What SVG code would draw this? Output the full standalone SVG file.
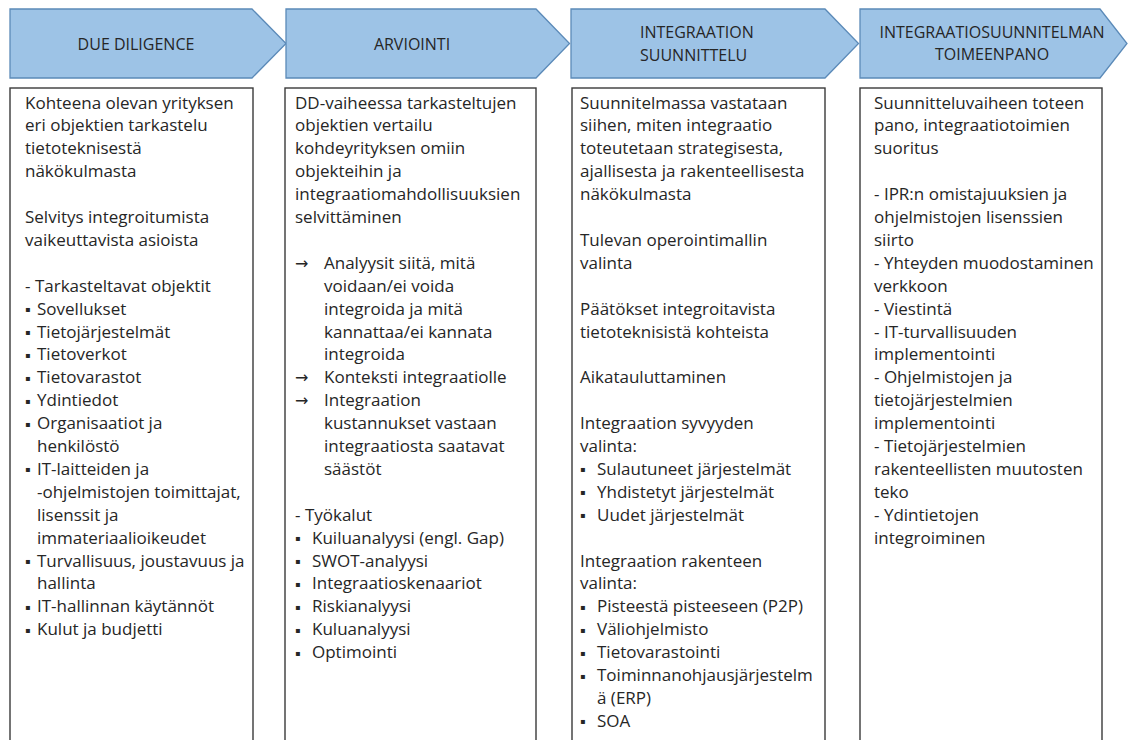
<svg xmlns="http://www.w3.org/2000/svg" width="1131" height="740" viewBox="0 0 1131 740">
<style>
.hdr{fill:#9DC3E6;stroke:#5B8AB8;stroke-width:1.3}
.box{fill:#fff;stroke:#3a3a3a;stroke-width:1.4}
.ht{font-family:"Open Sans","Noto Sans","DejaVu Sans",sans-serif;font-size:16px;fill:#262626}
.bt{font-family:"Open Sans","Noto Sans","DejaVu Sans",sans-serif;font-size:17px;fill:#262626}
.b{font-family:"DejaVu Sans",sans-serif;font-size:8px}
.ar{font-family:"DejaVu Sans",sans-serif;font-size:16px}
</style>
<rect width="1131" height="740" fill="#fff"/>

<g id="phase-due-diligence">
<polygon class="hdr" points="10,9 252,9 286,43.5 252,78 10,78"/>
<text class="ht" x="136" y="49.5" text-anchor="middle">DUE DILIGENCE</text>
<rect class="box" x="10" y="88" width="243" height="670"/>
<text class="bt" transform="translate(0,2.5)">
<tspan x="25" y="106">Kohteena olevan yrityksen</tspan>
<tspan x="25" y="128.9">eri objektien tarkastelu</tspan>
<tspan x="25" y="151.8">tietoteknisestä</tspan>
<tspan x="25" y="174.7">näkökulmasta</tspan>
<tspan x="25" y="220.5">Selvitys integroitumista</tspan>
<tspan x="25" y="243.4">vaikeuttavista asioista</tspan>
<tspan x="25" y="289.2">- Tarkasteltavat objektit</tspan>
<tspan x="25" y="309.6" class="b">▪</tspan><tspan x="37" y="312.1">Sovellukset</tspan>
<tspan x="25" y="332.5" class="b">▪</tspan><tspan x="37" y="335">Tietojärjestelmät</tspan>
<tspan x="25" y="355.4" class="b">▪</tspan><tspan x="37" y="357.9">Tietoverkot</tspan>
<tspan x="25" y="378.3" class="b">▪</tspan><tspan x="37" y="380.8">Tietovarastot</tspan>
<tspan x="25" y="401.2" class="b">▪</tspan><tspan x="37" y="403.7">Ydintiedot</tspan>
<tspan x="25" y="424.1" class="b">▪</tspan><tspan x="37" y="426.6">Organisaatiot ja</tspan>
<tspan x="37" y="449.5">henkilöstö</tspan>
<tspan x="25" y="469.9" class="b">▪</tspan><tspan x="37" y="472.4">IT-laitteiden ja</tspan>
<tspan x="37" y="495.3">-ohjelmistojen toimittajat,</tspan>
<tspan x="37" y="518.2">lisenssit ja</tspan>
<tspan x="37" y="541.1">immateriaalioikeudet</tspan>
<tspan x="25" y="561.5" class="b">▪</tspan><tspan x="37" y="564">Turvallisuus, joustavuus ja</tspan>
<tspan x="37" y="586.9">hallinta</tspan>
<tspan x="25" y="607.3" class="b">▪</tspan><tspan x="37" y="609.8">IT-hallinnan käytännöt</tspan>
<tspan x="25" y="630.2" class="b">▪</tspan><tspan x="37" y="632.7">Kulut ja budjetti</tspan>
</text>
</g>

<g id="phase-arviointi">
<polygon class="hdr" points="286,9 536,9 569.5,43.5 536,78 286,78"/>
<text class="ht" x="412" y="50" text-anchor="middle">ARVIOINTI</text>
<rect class="box" x="285" y="88" width="251" height="670"/>
<text class="bt" transform="translate(0,2.5)">
<tspan x="295" y="106">DD-vaiheessa tarkasteltujen</tspan>
<tspan x="295" y="128.9">objektien vertailu</tspan>
<tspan x="295" y="151.8">kohdeyrityksen omiin</tspan>
<tspan x="295" y="174.7">objekteihin ja</tspan>
<tspan x="295" y="197.6">integraatiomahdollisuuksien</tspan>
<tspan x="295" y="220.5">selvittäminen</tspan>
<tspan x="295" y="266.3" class="ar">→</tspan><tspan x="324" y="266.3">Analyysit siitä, mitä</tspan>
<tspan x="324" y="289.2">voidaan/ei voida</tspan>
<tspan x="324" y="312.1">integroida ja mitä</tspan>
<tspan x="324" y="335">kannattaa/ei kannata</tspan>
<tspan x="324" y="357.9">integroida</tspan>
<tspan x="295" y="380.8" class="ar">→</tspan><tspan x="324" y="380.8">Konteksti integraatiolle</tspan>
<tspan x="295" y="403.7" class="ar">→</tspan><tspan x="324" y="403.7">Integraation</tspan>
<tspan x="324" y="426.6">kustannukset vastaan</tspan>
<tspan x="324" y="449.5">integraatiosta saatavat</tspan>
<tspan x="324" y="472.4">säästöt</tspan>
<tspan x="295" y="518.2">- Työkalut</tspan>
<tspan x="295" y="538.6" class="b">▪</tspan><tspan x="312" y="541.1">Kuiluanalyysi (engl. Gap)</tspan>
<tspan x="295" y="561.5" class="b">▪</tspan><tspan x="312" y="564">SWOT-analyysi</tspan>
<tspan x="295" y="584.4" class="b">▪</tspan><tspan x="312" y="586.9">Integraatioskenaariot</tspan>
<tspan x="295" y="607.3" class="b">▪</tspan><tspan x="312" y="609.8">Riskianalyysi</tspan>
<tspan x="295" y="630.2" class="b">▪</tspan><tspan x="312" y="632.7">Kuluanalyysi</tspan>
<tspan x="295" y="653.1" class="b">▪</tspan><tspan x="312" y="655.6">Optimointi</tspan>
</text>
</g>

<g id="phase-integraation-suunnittelu">
<polygon class="hdr" points="571,9 825,9 858.5,43.5 825,78 571,78"/>
<text class="ht"><tspan x="640" y="38">INTEGRAATION</tspan><tspan x="640" y="61">SUUNNITTELU</tspan></text>
<rect class="box" x="572" y="88" width="253" height="670"/>
<text class="bt" transform="translate(0,2.5)">
<tspan x="580" y="106">Suunnitelmassa vastataan</tspan>
<tspan x="580" y="128.9">siihen, miten integraatio</tspan>
<tspan x="580" y="151.8">toteutetaan strategisesta,</tspan>
<tspan x="580" y="174.7">ajallisesta ja rakenteellisesta</tspan>
<tspan x="580" y="197.6">näkökulmasta</tspan>
<tspan x="580" y="243.4">Tulevan operointimallin</tspan>
<tspan x="580" y="266.3">valinta</tspan>
<tspan x="580" y="312.1">Päätökset integroitavista</tspan>
<tspan x="580" y="335">tietoteknisistä kohteista</tspan>
<tspan x="580" y="380.8">Aikatauluttaminen</tspan>
<tspan x="580" y="426.6">Integraation syvyyden</tspan>
<tspan x="580" y="449.5">valinta:</tspan>
<tspan x="580" y="469.9" class="b">▪</tspan><tspan x="597" y="472.4">Sulautuneet järjestelmät</tspan>
<tspan x="580" y="492.8" class="b">▪</tspan><tspan x="597" y="495.3">Yhdistetyt järjestelmät</tspan>
<tspan x="580" y="515.7" class="b">▪</tspan><tspan x="597" y="518.2">Uudet järjestelmät</tspan>
<tspan x="580" y="564">Integraation rakenteen</tspan>
<tspan x="580" y="586.9">valinta:</tspan>
<tspan x="580" y="607.3" class="b">▪</tspan><tspan x="597" y="609.8">Pisteestä pisteeseen (P2P)</tspan>
<tspan x="580" y="630.2" class="b">▪</tspan><tspan x="597" y="632.7">Väliohjelmisto</tspan>
<tspan x="580" y="653.1" class="b">▪</tspan><tspan x="597" y="655.6">Tietovarastointi</tspan>
<tspan x="580" y="676" class="b">▪</tspan><tspan x="597" y="678.5">Toiminnanohjausjärjestelm</tspan>
<tspan x="597" y="701.4">ä (ERP)</tspan>
<tspan x="580" y="721.8" class="b">▪</tspan><tspan x="597" y="724.3">SOA</tspan>
</text>
</g>

<g id="phase-toimeenpano">
<polygon class="hdr" points="860,9 1100,9 1127,43.5 1100,78 860,78"/>
<text class="ht" text-anchor="middle"><tspan x="992" y="38">INTEGRAATIOSUUNNITELMAN</tspan><tspan x="992" y="60">TOIMEENPANO</tspan></text>
<rect class="box" x="860" y="88" width="242" height="670"/>
<text class="bt" transform="translate(0,2.5)">
<tspan x="874" y="106">Suunnitteluvaiheen toteen</tspan>
<tspan x="874" y="128.9">pano, integraatiotoimien</tspan>
<tspan x="874" y="151.8">suoritus</tspan>
<tspan x="874" y="197.6">- IPR:n omistajuuksien ja</tspan>
<tspan x="874" y="220.5">ohjelmistojen lisenssien</tspan>
<tspan x="874" y="243.4">siirto</tspan>
<tspan x="874" y="266.3">- Yhteyden muodostaminen</tspan>
<tspan x="874" y="289.2">verkkoon</tspan>
<tspan x="874" y="312.1">- Viestintä</tspan>
<tspan x="874" y="335">- IT-turvallisuuden</tspan>
<tspan x="874" y="357.9">implementointi</tspan>
<tspan x="874" y="380.8">- Ohjelmistojen ja</tspan>
<tspan x="874" y="403.7">tietojärjestelmien</tspan>
<tspan x="874" y="426.6">implementointi</tspan>
<tspan x="874" y="449.5">- Tietojärjestelmien</tspan>
<tspan x="874" y="472.4">rakenteellisten muutosten</tspan>
<tspan x="874" y="495.3">teko</tspan>
<tspan x="874" y="518.2">- Ydintietojen</tspan>
<tspan x="874" y="541.1">integroiminen</tspan>
</text>
</g>
</svg>
